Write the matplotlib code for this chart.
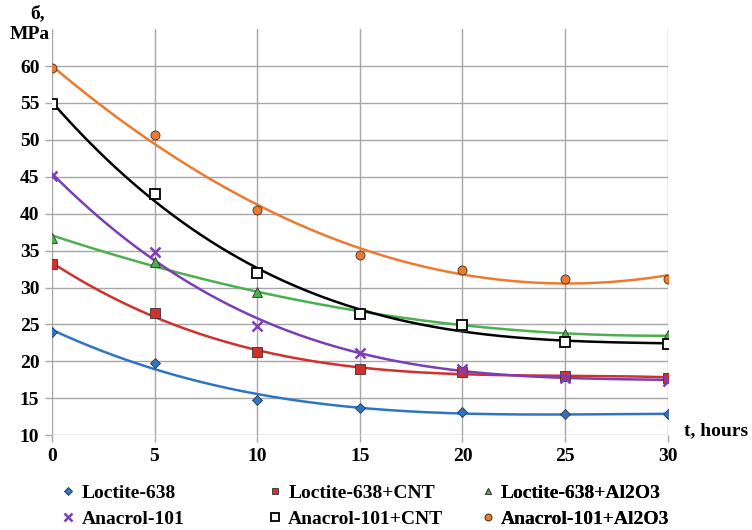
import numpy as np
import matplotlib.pyplot as plt

# time, hours
t = [0, 5, 10, 15, 20, 25, 30]

loctite = [24.0, 19.8, 14.8, 13.7, 13.1, 12.9, 12.8]
loctite_cnt = [33.2, 26.5, 21.2, 18.9, 18.6, 18.0, 17.8]
loctite_al = [36.7, 33.5, 29.4, 26.6, 24.8, 23.7, 23.6]
anacrol = [45.1, 34.8, 24.8, 21.1, 19.0, 17.8, 17.4]
anacrol_cnt = [54.8, 42.7, 32.0, 26.4, 24.9, 22.6, 22.4]
anacrol_al = [59.7, 50.6, 40.5, 34.4, 32.4, 31.2, 31.2]

series = [
    ("Loctite-638", loctite, "#2E75C4", "D", 3),
    ("Loctite-638+CNT", loctite_cnt, "#D0312D", "s", 3),
    ("Loctite-638+Al2O3", loctite_al, "#4CAF50", "^", 2),
    ("Anacrol-101", anacrol, "#7B3FB5", "x", 3),
    ("Anacrol-101+CNT", anacrol_cnt, "black", "s", 3),
    ("Anacrol-101+Al2O3", anacrol_al, "#EE7A30", "o", 2),
]

plt.rcParams['font.family'] = ['Liberation Serif', 'DejaVu Serif']
plt.rcParams['font.weight'] = 'bold'

fig = plt.figure(figsize=(7.52, 5.3), dpi=100)
ax = fig.add_axes([0.069, 0.179, 0.819, 0.766])

tt = np.linspace(0, 30, 200)
handles = []
for name, vals, col, mk, deg in series:
    coef = np.polyfit(t, vals, deg)
    ax.plot(tt, np.polyval(coef, tt), color=col, lw=1.8, zorder=2)
    if mk == "x":
        h, = ax.plot(t, vals, ls="none", marker="x", ms=7, mew=1.8, color=col,
                     label=name, zorder=3)
    elif col == "black":
        h, = ax.plot(t, vals, ls="none", marker="s", ms=7, mfc="white", mec="black",
                     mew=1.3, label=name, zorder=3)
    else:
        h, = ax.plot(t, vals, ls="none", marker=mk, ms=6.5 if mk != "D" else 5,
                     mfc=col, mec="#333333", mew=0.6, label=name, zorder=3)
    handles.append(h)

ax.set_xlim(0, 30)
ax.set_ylim(10, 65)
ax.set_xticks(range(0, 31, 5))
ax.set_yticks(range(10, 61, 5))
ax.grid(True, color="#A6A6A6", lw=1)
ax.set_axisbelow(True)
for s in ax.spines.values():
    s.set_visible(False)
ax.tick_params(length=5, width=1, color="#A6A6A6", labelsize=14, pad=4)
for lab in ax.get_xticklabels() + ax.get_yticklabels():
    lab.set_fontweight('bold')

fig.text(0.05, 0.975, "б,", fontsize=14, fontweight='bold', ha='center', va='center')
fig.text(0.04, 0.935, "MPa", fontsize=14, fontweight='bold', ha='center', va='center')
fig.text(0.952, 0.188, "t, hours", fontsize=14, fontweight='bold', ha='center', va='center')

# one small legend per column so the columns sit where they do in the original
col_x = [0.067, 0.342, 0.625]
for c, x0 in enumerate(col_x):
    leg = ax.legend([handles[c], handles[c + 3]], [series[c][0], series[c + 3][0]],
                    loc="center left", bbox_to_anchor=(x0, 0.045),
                    bbox_transform=fig.transFigure, frameon=False,
                    handlelength=0.8, handletextpad=0.3, borderpad=0,
                    labelspacing=0.45, markerscale=0.75,
                    prop={'weight': 'bold', 'size': 14})
    ax.add_artist(leg)

fig.savefig("out.png", dpi=100)
